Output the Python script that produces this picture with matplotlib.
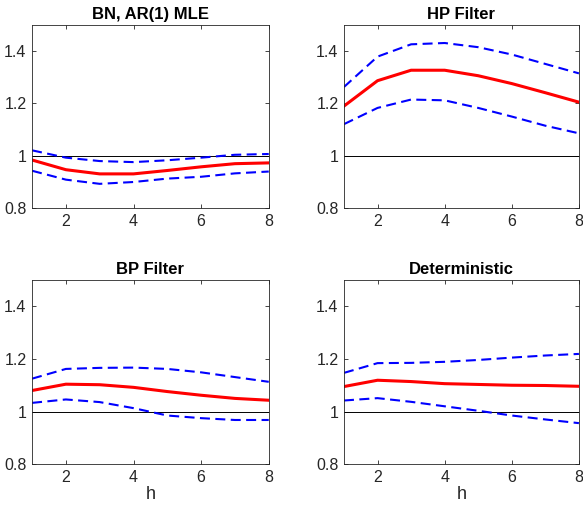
import matplotlib
matplotlib.use("Agg")
import matplotlib.pyplot as plt

plt.rcParams['font.family'] = ['Liberation Sans', 'DejaVu Sans']

h = [1, 2, 3, 4, 5, 6, 7, 8]

titulos = ["BN, AR(1) MLE", "HP Filter", "BP Filter", "Deterministic"]

# estimativa pontual (vermelho) e bandas (azul tracejado)
media = [
    [0.984, 0.947, 0.931, 0.931, 0.944, 0.958, 0.970, 0.973],
    [1.190, 1.287, 1.327, 1.327, 1.306, 1.276, 1.241, 1.205],
    [1.080, 1.104, 1.102, 1.092, 1.076, 1.062, 1.050, 1.043],
    [1.095, 1.119, 1.114, 1.106, 1.103, 1.100, 1.099, 1.096],
]
superior = [
    [1.021, 0.993, 0.980, 0.976, 0.983, 0.993, 1.004, 1.007],
    [1.263, 1.379, 1.426, 1.431, 1.415, 1.387, 1.351, 1.315],
    [1.125, 1.162, 1.166, 1.167, 1.162, 1.149, 1.131, 1.113],
    [1.147, 1.184, 1.185, 1.189, 1.196, 1.205, 1.213, 1.219],
]
inferior = [
    [0.943, 0.909, 0.893, 0.900, 0.913, 0.920, 0.933, 0.940],
    [1.121, 1.183, 1.215, 1.212, 1.183, 1.150, 1.115, 1.086],
    [1.033, 1.046, 1.036, 1.013, 0.985, 0.975, 0.968, 0.968],
    [1.042, 1.051, 1.037, 1.020, 1.003, 0.985, 0.970, 0.956],
]

yticks = [0.8, 1.0, 1.2, 1.4]
ytick_labels = ["0.8", "1", "1.2", "1.4"]
xticks = [2, 4, 6, 8]

fig = plt.figure(figsize=(5.83, 5.09), dpi=100)

# posicoes dos eixos (estilo MATLAB)
posicoes = [
    [0.055, 0.591, 0.406, 0.360],
    [0.590, 0.591, 0.403, 0.360],
    [0.055, 0.088, 0.406, 0.362],
    [0.590, 0.088, 0.403, 0.362],
]

for i in range(4):
    ax = fig.add_axes(posicoes[i])
    ax.axhline(1.0, color="black", linewidth=0.7)
    ax.plot(h, superior[i], "--", color="blue", linewidth=1.5, dashes=(4.8, 2.6))
    ax.plot(h, inferior[i], "--", color="blue", linewidth=1.5, dashes=(4.8, 2.6))
    ax.plot(h, media[i], "-", color="red", linewidth=2.2)
    ax.set_xlim(1, 8)
    ax.set_ylim(0.8, 1.5)
    ax.set_xticks(xticks)
    ax.set_yticks(yticks)
    ax.set_yticklabels(ytick_labels)
    ax.tick_params(direction="in", top=True, right=True, labelsize=11.5,
                   colors="#262626", length=3, width=0.6, pad=4)
    for s in ax.spines.values():
        s.set_color("#262626")
        s.set_linewidth(0.6)
    ax.set_title(titulos[i], fontsize=12, fontweight="bold", pad=4)
    if i >= 2:
        ax.set_xlabel("h", fontsize=13, color="#262626", labelpad=1)

fig.savefig("out.png", dpi=100)
